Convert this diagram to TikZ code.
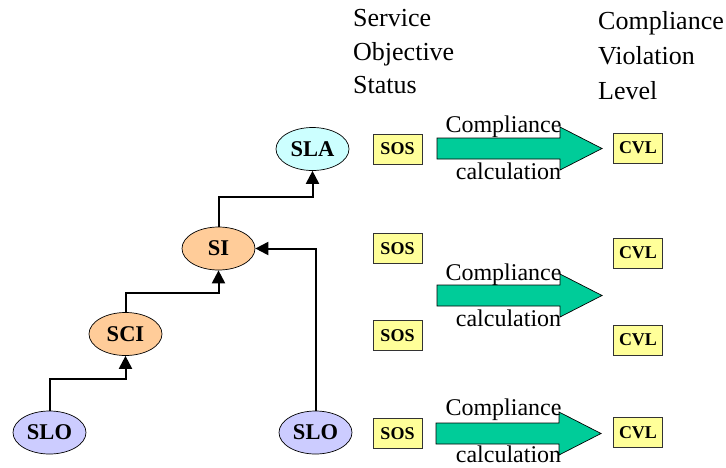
\documentclass[tikz,border=0pt]{standalone}
\usepackage{fontspec}
\setmainfont{Liberation Serif}
\usetikzlibrary{arrows.meta,shapes.geometric}
\definecolor{slafill}{HTML}{CCFFFF}
\definecolor{sifill}{HTML}{FFCC99}
\definecolor{slofill}{HTML}{CCCCFF}
\definecolor{boxfill}{HTML}{FFFF99}
\definecolor{arrowfill}{HTML}{00CC99}
\begin{document}
\begin{tikzpicture}[x=1pt,y=-1pt,
  elem/.style={ellipse, draw=black, line width=0.7pt, minimum width=73pt,
    minimum height=43pt, inner sep=0pt, font=\fontsize{22.5}{26}\selectfont\bfseries},
  statbox/.style={rectangle, draw=black!80, line width=0.9pt, fill=boxfill,
    minimum width=49pt, minimum height=30pt, inner sep=0pt,
    font=\fontsize{18}{20}\selectfont\bfseries},
  link/.style={line width=2pt, -{Triangle[length=13pt,width=13pt]}},
  lbl/.style={anchor=base, inner sep=0pt, font=\fontsize{24}{28}\selectfont},
  head/.style={anchor=base west, inner sep=0pt, font=\fontsize{26}{30}\selectfont},
  carrow/.pic={\draw[fill=arrowfill, line width=0.7pt]
    (0,-10.5) -- (123,-10.5) -- (123,-21.5) -- (165,0) -- (123,21.5)
    -- (123,10.5) -- (0,10.5) -- cycle;}
]
\useasboundingbox (0,0) rectangle (726,467);

% column headings
\node[head] (h1) at (353,26) {Service};
\node[head] (h2) at (353,60) {Objective};
\node[head] (h3) at (353,93) {Status};
\node[head] (h4) at (598,29) {Compliance};
\node[head] (h5) at (598,64) {Violation};
\node[head] (h6) at (598,99) {Level};

% agreement hierarchy
\node[elem, fill=slafill] (sla) at (312.5,149) {SLA};
\node[elem, fill=sifill]  (si)  at (218.5,248.5) {SI};
\node[elem, fill=sifill]  (sci) at (125.5,334) {SCI};
\node[elem, fill=slofill] (sloa) at (49.5,432.5) {SLO};
\node[elem, fill=slofill] (slob) at (315.5,432.5) {SLO};

\draw[link] (sloa.north) -- ++(0,-31.5) -| (sci.south);
\draw[link] (sci.north) -- ++(0,-19.5) -| (si.south);
\draw[link] (si.north) -- ++(0,-29.5) -| (sla.south);
\draw[link] (slob.north) |- (si.east);

% status and violation boxes
\node[statbox] (sos1) at (397.5,149) {SOS};
\node[statbox] (sos2) at (397.5,248.5) {SOS};
\node[statbox] (sos3) at (397.5,335.5) {SOS};
\node[statbox] (sos4) at (397.5,433.5) {SOS};
\node[statbox] (cvl1) at (638,148) {CVL};
\node[statbox] (cvl2) at (638,253) {CVL};
\node[statbox] (cvl3) at (638,340) {CVL};
\node[statbox] (cvl4) at (638,432.5) {CVL};

% compliance calculation arrows
\pic at (437,148.5) {carrow};
\pic at (437,295.5) {carrow};
\pic at (436,433.5) {carrow};

\node[lbl] (c1a) at (503.5,132) {Compliance};
\node[lbl] (c1b) at (508.5,179) {calculation};
\node[lbl] (c2a) at (503.5,280) {Compliance};
\node[lbl] (c2b) at (508.5,326) {calculation};
\node[lbl] (c3a) at (503.5,415) {Compliance};
\node[lbl] (c3b) at (508.5,462) {calculation};
\end{tikzpicture}
\end{document}
